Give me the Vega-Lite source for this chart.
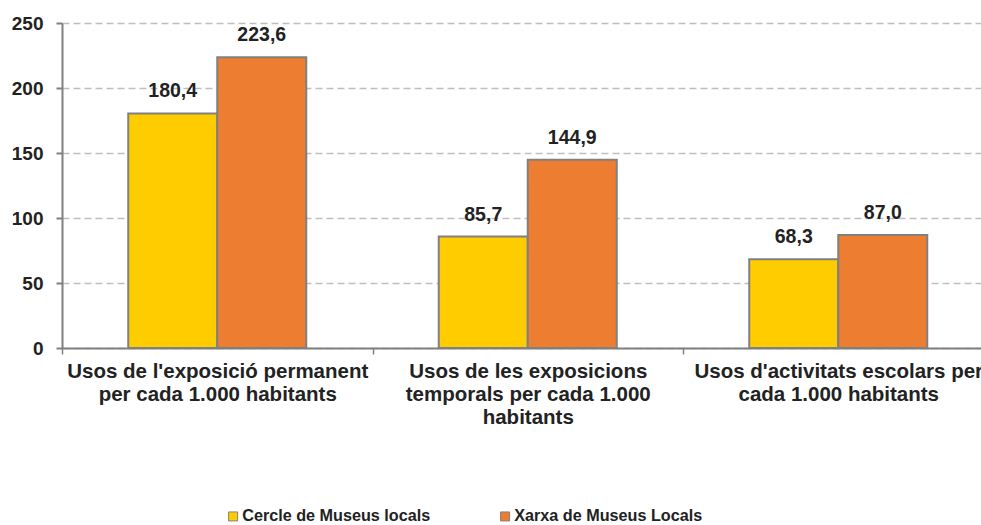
{
  "$schema": "https://vega.github.io/schema/vega-lite/v6.json",
  "width": 919,
  "height": 325,
  "autosize": {"type": "none"},
  "padding": {"left": 62, "top": 23, "right": 0, "bottom": 177},
  "config": {
    "locale": {"number": {"decimal": ",", "thousands": ".", "grouping": [3], "currency": ["", " €"]}},
    "view": {"stroke": null},
    "font": "Liberation Sans"
  },
  "data": {
    "values": [
      {"category": "Usos de l'exposició permanent|per cada 1.000 habitants", "serie": "Cercle de Museus locals", "value": 180.4},
      {"category": "Usos de l'exposició permanent|per cada 1.000 habitants", "serie": "Xarxa de Museus Locals", "value": 223.6},
      {"category": "Usos de les exposicions|temporals per cada 1.000|habitants", "serie": "Cercle de Museus locals", "value": 85.7},
      {"category": "Usos de les exposicions|temporals per cada 1.000|habitants", "serie": "Xarxa de Museus Locals", "value": 144.9},
      {"category": "Usos d'activitats escolars per|cada 1.000 habitants", "serie": "Cercle de Museus locals", "value": 68.3},
      {"category": "Usos d'activitats escolars per|cada 1.000 habitants", "serie": "Xarxa de Museus Locals", "value": 87.0}
    ]
  },
  "encoding": {
    "x": {
      "field": "category", "type": "nominal", "sort": null,
      "scale": {"range": [0, 931.5], "paddingInner": 0, "paddingOuter": 0},
      "axis": {
        "title": null, "labelAngle": 0, "labelExpr": "split(datum.label, '|')",
        "labelFontSize": 20.5, "labelFontWeight": "bold", "labelColor": "#222222",
        "labelLineHeight": 23, "labelPadding": 7, "labelLimit": 0, "labelOverlap": false,
        "domainColor": "#808080", "domainWidth": 2,
        "ticks": true, "tickBand": "extent", "tickColor": "#808080", "tickWidth": 1.5, "tickSize": 6,
        "grid": false
      }
    },
    "xOffset": {
      "field": "serie", "type": "nominal", "sort": null,
      "scale": {"paddingInner": 0, "paddingOuter": 0.744}
    },
    "y": {
      "field": "value", "type": "quantitative",
      "scale": {"domain": [0, 250], "nice": false},
      "axis": {
        "title": null, "values": [0, 50, 100, 150, 200, 250],
        "labelFontSize": 19, "labelFontWeight": "bold", "labelColor": "#222222", "labelPadding": 13,
        "domainColor": "#808080", "domainWidth": 2,
        "tickColor": "#808080", "tickWidth": 2, "tickSize": 6,
        "grid": true, "gridColor": "#BFBFBF", "gridDash": [7, 4], "gridWidth": 1.5
      }
    }
  },
  "layer": [
    {
      "mark": {"type": "bar", "stroke": "#808080", "strokeWidth": 2},
      "encoding": {
        "color": {
          "field": "serie", "type": "nominal",
          "scale": {"domain": ["Cercle de Museus locals", "Xarxa de Museus Locals"], "range": ["#FFCC00", "#ED7D31"]},
          "legend": {
            "orient": "none", "legendX": 163, "legendY": 485, "direction": "horizontal",
            "title": null, "symbolType": "square", "symbolSize": 81,
            "symbolStrokeColor": "#808080", "symbolStrokeWidth": 1,
            "labelFontSize": 16.2, "labelFontWeight": "bold", "labelColor": "#222222", "labelLimit": 0,
            "labelOffset": 1, "columnPadding": 66, "padding": 0
          }
        }
      }
    },
    {
      "mark": {"type": "text", "baseline": "alphabetic", "dy": -16, "fontSize": 19.5, "fontWeight": "bold", "color": "#222222"},
      "encoding": {
        "text": {"field": "value", "type": "quantitative", "format": ".1f"}
      }
    }
  ]
}
